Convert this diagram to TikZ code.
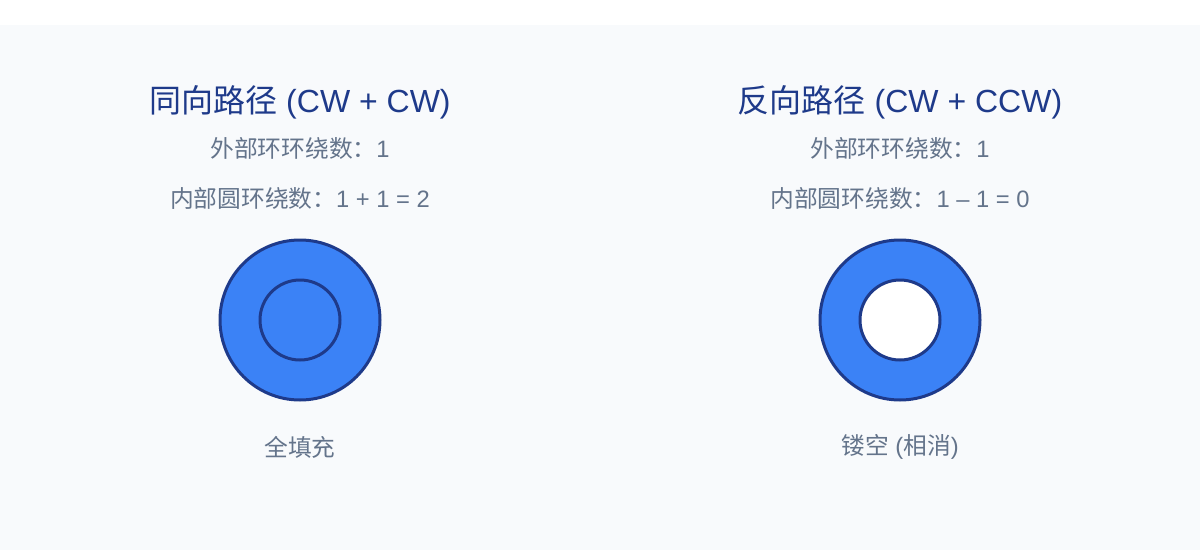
\documentclass[tikz,border=0pt]{standalone}
\usepackage{fontspec}
\setmainfont{Liberation Sans}
\newfontfamily\cjk{Noto Sans CJK SC}
\usepackage{xcolor}
\usepackage{tikz}

\definecolor{bgGray}{HTML}{F8FAFC}
\definecolor{ringBlue}{HTML}{3B82F6}
\definecolor{ringEdge}{HTML}{1E3A8A}
\definecolor{txtGray}{HTML}{64748B}

\begin{document}
\begin{tikzpicture}[x=0.75pt,y=0.75pt,yscale=-1,xscale=1,
    title/.style={inner sep=0.75pt,text=ringEdge,font=\fontsize{24}{27}\selectfont},
    info/.style={inner sep=0.75pt,text=txtGray,font=\fontsize{17.8}{21}\selectfont},
    ring/.style={draw=ringEdge,line width=2.25pt,fill=ringBlue}]
        \useasboundingbox (0,0) rectangle (1200,550);
        \fill [white] (0,0) rectangle (1200,550);
        \fill [bgGray] (0,25) rectangle (1200,550);

        % same direction
        \draw (300,102) node (ttlSame) [title] {{\cjk 同向路径} (CW + CW)};
        \draw (300,148) node (outSame) [info] {{\cjk 外部环环绕数：}1};
        \draw (300,198) node (inSame) [info] {{\cjk 内部圆环绕数：}1 + 1 = 2};
        \draw [ring] (300,320) circle (80);
        \draw [ring] (300,320) circle (40);
        \draw (300,447) node (resSame) [info] {{\cjk 全填充}};

        % opposite direction
        \draw (900,102) node (ttlOpp) [title] {{\cjk 反向路径} (CW + CCW)};
        \draw (900,148) node (outOpp) [info] {{\cjk 外部环环绕数：}1};
        \draw (900,198) node (inOpp) [info] {{\cjk 内部圆环绕数：}1 – 1 = 0};
        \draw [ring] (900,320) circle (80);
        \draw [ring,fill=white] (900,320) circle (40);
        \draw (900,447) node (resOpp) [info] {{\cjk 镂空} ({\cjk 相消})};
\end{tikzpicture}
\end{document}
